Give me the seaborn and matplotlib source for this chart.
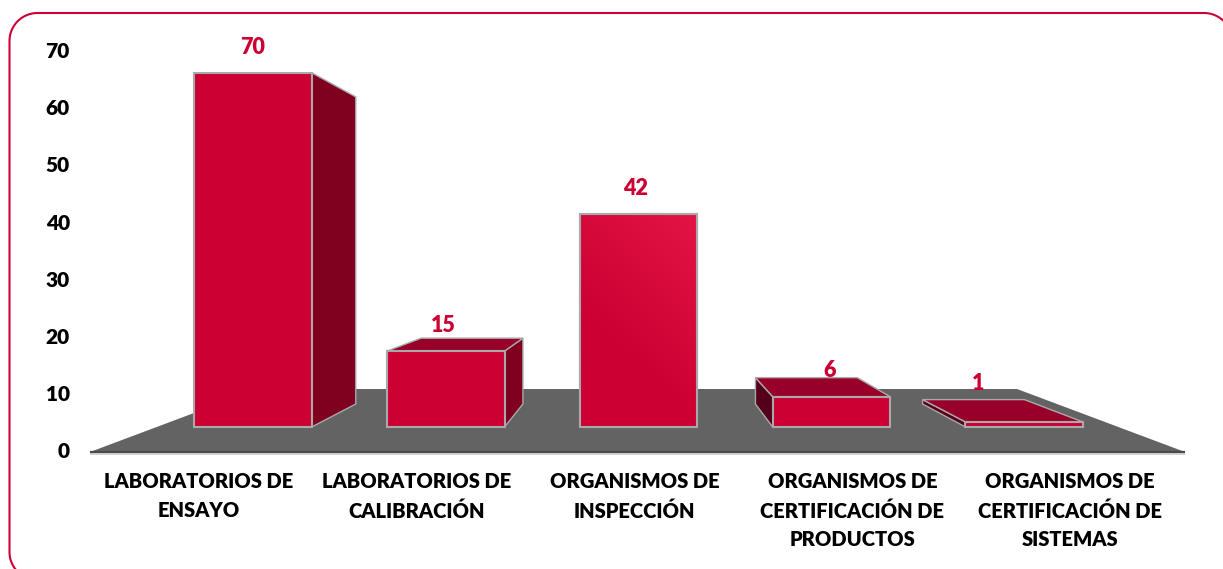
import numpy as np
import pandas as pd
import seaborn as sns
import matplotlib
matplotlib.use("Agg")
import matplotlib.pyplot as plt
from matplotlib.lines import Line2D
from matplotlib.patches import Polygon
from matplotlib.transforms import IdentityTransform

# ---- data ----
categories = ["LABORATORIOS DE\nENSAYO", "LABORATORIOS DE\nCALIBRACIÓN", "ORGANISMOS DE\nINSPECCIÓN",
              "ORGANISMOS DE\nCERTIFICACIÓN DE\nPRODUCTOS", "ORGANISMOS DE\nCERTIFICACIÓN DE\nSISTEMAS"]
values = [70, 15, 42, 6, 1]
y_ticks = [0, 10, 20, 30, 40, 50, 60, 70]

# ---- style ----
W, H = 1223, 569
FRONT, SIDE, TOP, LEFT = "#CC0033", "#800020", "#990029", "#55001A"
FLOOR, EDGE = "#636363", "#A9A9A9"
BAR_W = 0.609
WEIGHT = "heavy"
plt.rcParams["font.family"] = ["Lato", "DejaVu Sans"]

# pixel layout of the plot (one unit of category / value at the front plane)
PX_X0, PX_PER_CAT = 253.0, 192.8
PX_Y0, PX_PER_VAL = 427.0, 5.06
AX_L, AX_R, AX_T, AX_B = 90, 1185, 30, 452

# perspective: vanishing point and depth ratios, in data units
VP = np.array([(643 - PX_X0) / PX_PER_CAT, (PX_Y0 - 254) / PX_PER_VAL])
K_BACK = 0.867   # depth of the bar's rear face
K_AXIS = 1.13    # the plane that carries the axis labels

def project(x, y, k):
    return VP + k * (np.array([x, y]) - VP)

fig = plt.figure(figsize=(W / 100, H / 100), dpi=100, facecolor="white")
ax = fig.add_axes([AX_L / W, 1 - AX_B / H, (AX_R - AX_L) / W, (AX_B - AX_T) / H])

df = pd.DataFrame({"cat": categories, "val": values})
sns.barplot(data=df, x="cat", y="val", color=FRONT, saturation=1, width=BAR_W,
            edgecolor=EDGE, linewidth=1.5, ax=ax, zorder=4)
bars = list(ax.containers[0])

xlim = ((AX_L - PX_X0) / PX_PER_CAT, (AX_R - PX_X0) / PX_PER_CAT)
ylim = ((PX_Y0 - AX_B) / PX_PER_VAL, (PX_Y0 - AX_T) / PX_PER_VAL)

# floor
floor_bottom = ylim[0]
floor_top = (PX_Y0 - 389) / PX_PER_VAL
fx_left, fx_right = xlim
fx_bl, fx_br = (258 - PX_X0) / PX_PER_CAT, (1017 - PX_X0) / PX_PER_CAT
ax.add_patch(Polygon([(fx_left, floor_bottom), (fx_bl, floor_top), (fx_br, floor_top), (fx_right, floor_bottom)],
                     closed=True, facecolor=FLOOR, edgecolor="none", zorder=1, clip_on=False))
ax.plot([fx_left, fx_right], [floor_bottom, floor_bottom], color="#4A4A4A", lw=1.6, zorder=2,
        clip_on=False, solid_capstyle="butt")
ax.plot([fx_left, fx_right], [floor_bottom - 0.32, floor_bottom - 0.32], color="#C8C8C8", lw=1.2, zorder=2,
        clip_on=False, solid_capstyle="butt")

# side and top faces, derived from each value
for i, v in enumerate(values):
    l, r = i - BAR_W / 2, i + BAR_W / 2
    fl_t, fr_t = np.array([l, v]), np.array([r, v])
    fl_b, fr_b = np.array([l, 0]), np.array([r, 0])
    bl_t, br_t = project(l, v, K_BACK), project(r, v, K_BACK)
    bl_b, br_b = project(l, 0, K_BACK), project(r, 0, K_BACK)
    if r < VP[0]:
        ax.add_patch(Polygon([fr_t, br_t, br_b, fr_b], closed=True, facecolor=SIDE, edgecolor=EDGE, lw=1.0, zorder=3))
    if l > VP[0]:
        ax.add_patch(Polygon([fl_t, bl_t, bl_b, fl_b], closed=True, facecolor=LEFT, edgecolor=EDGE, lw=1.0, zorder=3))
    if v < VP[1]:
        ax.add_patch(Polygon([fl_t, bl_t, br_t, fr_t], closed=True, facecolor=TOP, edgecolor=EDGE, lw=1.0, zorder=3))

# subtle diagonal sheen on the third bar
bar3 = bars[2]
gx, gy = np.meshgrid(np.linspace(0, 1, 60), np.linspace(0, 1, 120))
g = np.clip((gx * 0.35 + gy * 0.65 - 0.35) / 0.65, 0, 1)
rgb = np.dstack([0.80 + 0.09 * g, 0.0 + 0.08 * g, 0.20 + 0.07 * g])
im = ax.imshow(rgb, origin="lower", aspect="auto", zorder=4.5,
               extent=(bar3.get_x(), bar3.get_x() + bar3.get_width(), 0, bar3.get_height()))
im.set_clip_path(bar3)
ax.add_patch(Polygon(bar3.get_corners(), closed=True, fill=False, edgecolor=EDGE, lw=1.5, zorder=5))

ax.set_xlim(*xlim)
ax.set_ylim(*ylim)

# axis labels sit on the nearer plane
xt = [project(i, 0, K_AXIS)[0] - 3.5 / PX_PER_CAT for i in range(len(categories))]
yt = [project(0, v, K_AXIS)[1] - 0.8 / PX_PER_VAL for v in y_ticks]
ax.set_xticks(xt, categories, fontsize=14.5, fontweight=WEIGHT, color="black", linespacing=1.6)
ax.set_yticks(yt, [str(v) for v in y_ticks], fontsize=15, fontweight=WEIGHT, color="black")
ax.tick_params(axis="x", length=0, pad=14.5)
ax.tick_params(axis="y", length=0, pad=14.5)
ax.set_xlabel("")
ax.set_ylabel("")
for s in ax.spines.values():
    s.set_visible(False)
ax.patch.set_alpha(0)

# value labels
label_dx = [0, -2, -3, -2, -46]
label_dy = [25, 26, 26, 26, 38]
for i, v in enumerate(values):
    ax.annotate(str(v), (i, v), xytext=(label_dx[i], label_dy[i]), textcoords="offset pixels",
                ha="center", va="center", color=FRONT, fontsize=15.5, fontweight=WEIGHT, zorder=6,
                annotation_clip=False)

# rounded frame, in figure pixels; it is cut by the right and bottom edges of the picture
fl, fr, ft, fb, rad = 9.5, 1232.0, H - 13.0, H - 580.0, 28.0
def arc(cx, cy, a0, a1):
    t = np.radians(np.linspace(a0, a1, 40))
    return np.c_[cx + rad * np.cos(t), cy + rad * np.sin(t)]
pts = np.vstack([arc(fl + rad, fb + rad, 225, 180), arc(fl + rad, ft - rad, 180, 90), arc(fr - rad, ft - rad, 90, 45)])
pts = pts[(pts[:, 0] <= W + 2) & (pts[:, 1] >= -2)]
fig.add_artist(Line2D(pts[:, 0], pts[:, 1], transform=IdentityTransform(), color=FRONT, linewidth=1.5))

fig.savefig("out.png", dpi=100)
